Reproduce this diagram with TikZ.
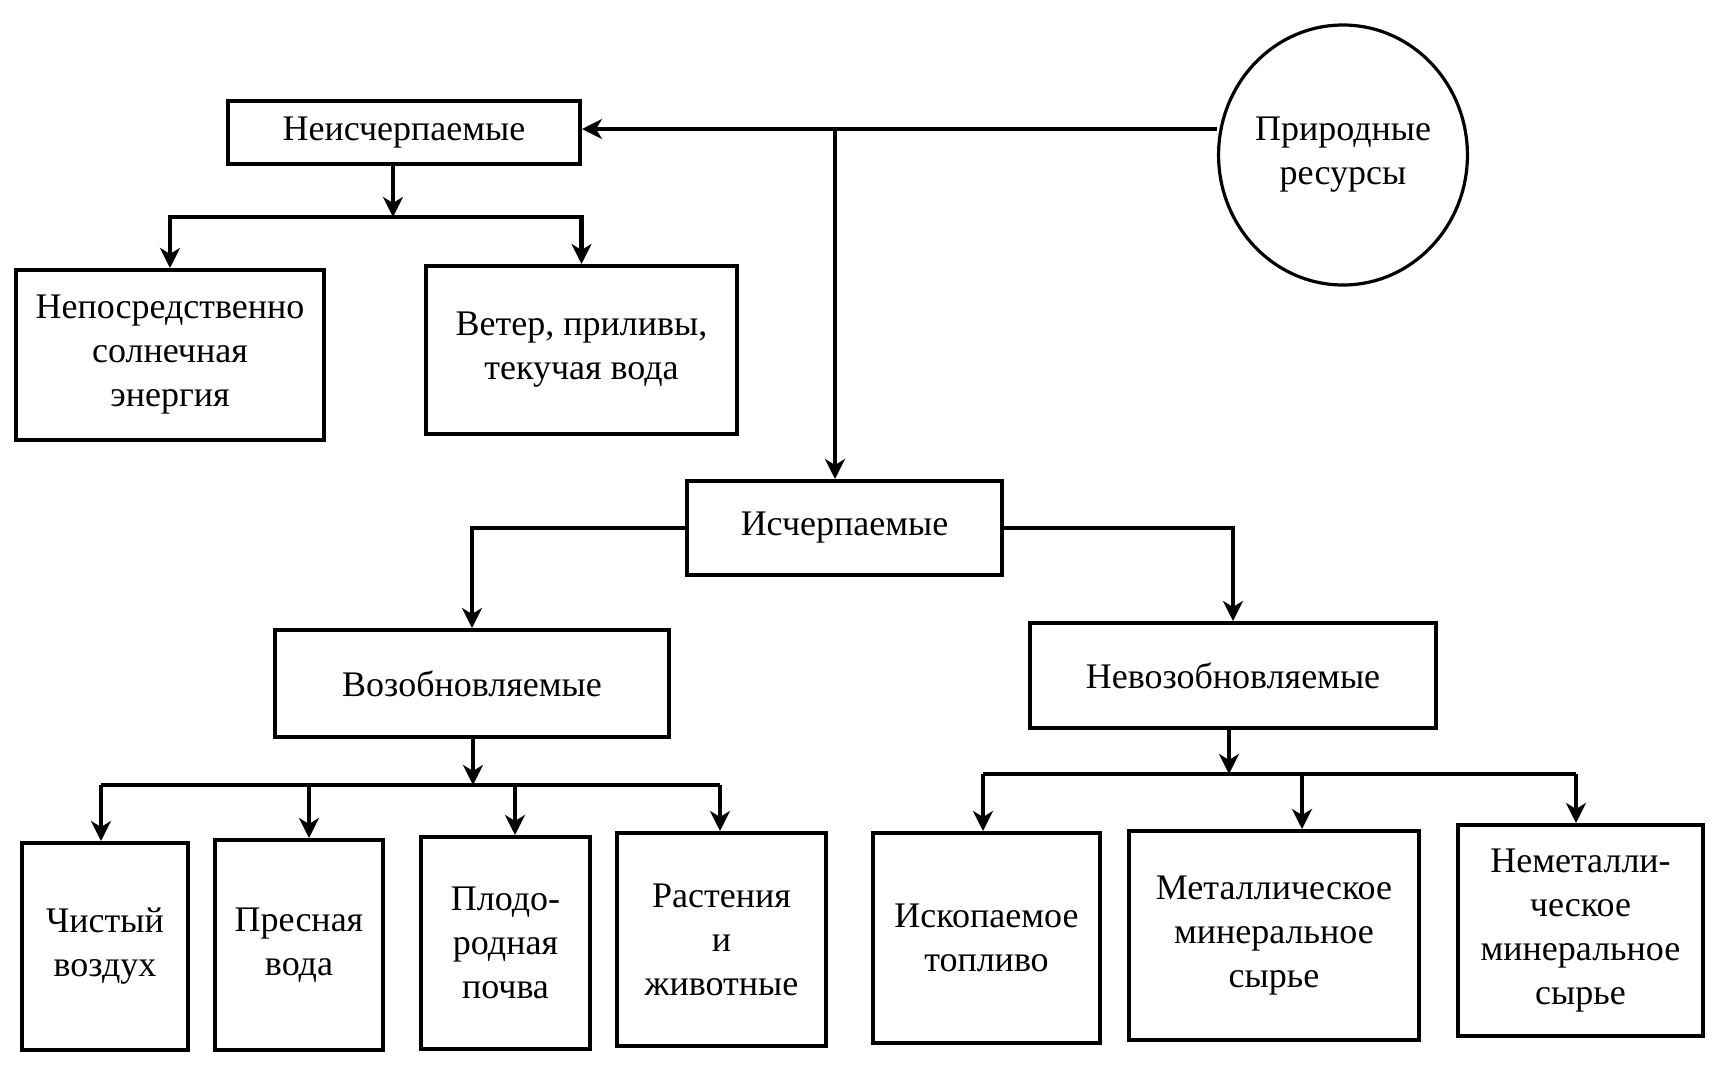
\documentclass[tikz,border=0pt]{standalone}
\usepackage{fontspec}
\setmainfont{Liberation Serif}
\usetikzlibrary{arrows.meta,shapes.geometric}
\tikzset{
  box/.style={draw,line width=2pt,rectangle,align=center,inner sep=0pt,
    font=\fontsize{18}{22}\selectfont},
  circ/.style={draw,line width=1.6pt,ellipse,align=center,inner sep=0pt,
    font=\fontsize{18}{22}\selectfont},
  conn/.style={line width=2.2pt},
  arr/.style={line width=2.2pt,-{Stealth[length=10pt,width=10pt,inset=3pt]}}
}
\begin{document}
\begin{tikzpicture}[x=0.5pt,y=-0.5pt]
\useasboundingbox (0,0) rectangle (1720,1076);
% nodes
\node[circ,minimum width=124pt,minimum height=130pt] (prir) at (1343,155) {Природные\\ресурсы};
\node[box,minimum width=176pt,minimum height=31.5pt] (nei) at (404,132.5) {Неисчерпаемые};
\node[box,minimum width=154pt,minimum height=85pt] (nep) at (170,355) {Непосредственно\\солнечная\\энергия};
\node[box,minimum width=155.5pt,minimum height=84pt] (vet) at (581.5,350) {Ветер, приливы,\\текучая вода};
\node[box,minimum width=157.5pt,minimum height=47pt] (isch) at (844.5,528) {Исчерпаемые};
\node[box,minimum width=197pt,minimum height=53.5pt] (vozob) at (472,683.5) {Возобновляемые};
\node[box,minimum width=203pt,minimum height=52.5pt] (nevoz) at (1233,675.5) {Невозобновляемые};
\node[box,minimum width=83pt,minimum height=103.5pt] (chist) at (105,946.5) {Чистый\\воздух};
\node[box,minimum width=84pt,minimum height=105pt] (presn) at (299,945) {Пресная\\вода};
\node[box,minimum width=84.5pt,minimum height=106pt] (plodo) at (505.5,943) {Плодо-\\родная\\почва};
\node[box,minimum width=104.5pt,minimum height=106.5pt] (rast) at (721.5,939.5) {Растения\\и\\животные};
\node[box,minimum width=113.5pt,minimum height=105pt] (iskop) at (986.5,938) {Ископаемое\\топливо};
\node[box,minimum width=145pt,minimum height=104.5pt] (metal) at (1274,935.5) {Металлическое\\минеральное\\сырье};
\node[box,minimum width=122.5pt,minimum height=105.5pt] (nemet) at (1580.5,930.5) {Неметалли-\\ческое\\минеральное\\сырье};
% junction coordinates
\coordinate (j0) at (835,129);
\coordinate (b1) at (393,217);
\coordinate (b2) at (473,785);
\coordinate (a1) at (101,785);
\coordinate (a2) at (309,785);
\coordinate (a3) at (515,785);
\coordinate (a4) at (720,785);
\coordinate (b3) at (1229,774);
\coordinate (c1) at (983,774);
\coordinate (c2) at (1302,774);
\coordinate (c3) at (1576,774);
% top level
\draw[arr] (prir.west |- j0) -- (nei.east |- j0);
\draw[arr] (j0) -- (j0 |- isch.north);
% inexhaustible
\draw[arr] (nei.south -| b1) -- (b1);
\draw[arr] (b1) -| (nep.north);
\draw[arr] (b1) -| (vet.north);
% exhaustible
\draw[arr] (isch.west) -| (vozob.north);
\draw[arr] (isch.east) -| (nevoz.north);
% renewable
\draw[arr] (vozob.south -| b2) -- (b2);
\draw[conn] (a1) -- (a4);
\draw[arr] (a1) -- (a1 |- chist.north);
\draw[arr] (a2) -- (a2 |- presn.north);
\draw[arr] (a3) -- (a3 |- plodo.north);
\draw[arr] (a4) -- (a4 |- rast.north);
% non-renewable
\draw[arr] (nevoz.south -| b3) -- (b3);
\draw[conn] (c1) -- (c3);
\draw[arr] (c1) -- (c1 |- iskop.north);
\draw[arr] (c2) -- (c2 |- metal.north);
\draw[arr] (c3) -- (c3 |- nemet.north);
\end{tikzpicture}
\end{document}
